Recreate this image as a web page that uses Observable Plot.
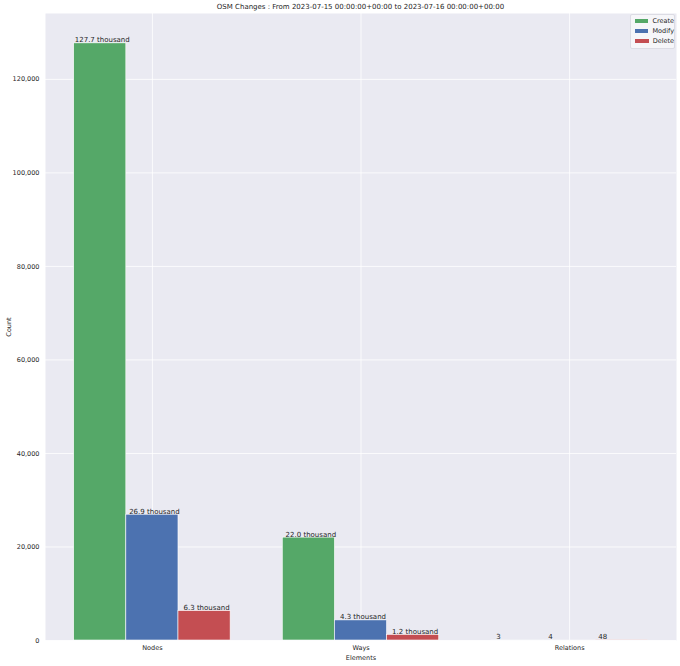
<!DOCTYPE html>
<html>
<head>
<meta charset="utf-8">
<script src="https://cdn.jsdelivr.net/npm/d3@7"></script>
<script src="https://cdn.jsdelivr.net/npm/@observablehq/plot@0.6"></script>
<style>
  body { margin: 0; background: #fff; font-family: "DejaVu Sans", sans-serif; color: #262626; }
  #wrap { position: relative; width: 680px; height: 666px; }
  #title { height: 13px; line-height: 14px; font-size: 7px; text-align: center; padding: 0 4px 0 45px; white-space: nowrap; }
  #legend { position: absolute; left: 630px; top: 14px; width: 41px; padding: 1px 0 2px 2px;
            background: rgba(255,255,255,0.55); border: 1px solid #dcdce4; border-radius: 2px; font-size: 6.5px; }
  #legend div { display: flex; align-items: center; height: 10px; }
  #legend span.sw { width: 14px; height: 4px; margin: 0 4px 0 2px; }
</style>
</head>
<body>
<div id="wrap">
  <div id="title">OSM Changes : From 2023-07-15 00:00:00+00:00 to 2023-07-16 00:00:00+00:00</div>
  <div id="chart"></div>
  <div id="legend"></div>
</div>
<script>
const elements = ["Nodes", "Ways", "Relations"];
const actions = ["Create", "Modify", "Delete"];
const createCounts = [127700, 22000, 3];
const modifyCounts = [26900, 4300, 4];
const deleteCounts = [6300, 1200, 48];
const colors = ["#55A868", "#4C72B0", "#C44E52"];

const barWidth = 0.25;
const series = [createCounts, modifyCounts, deleteCounts];

// one row per bar, placed like a grouped matplotlib bar chart
const rows = [];
elements.forEach((el, i) => {
  actions.forEach((act, j) => {
    const center = i + (j - 1) * barWidth;
    rows.push({ element: el, action: act, center, x1: center - barWidth / 2, x2: center + barWidth / 2, count: series[j][i] });
  });
});

const label = (c) => c >= 1000 ? (c / 1000).toFixed(1) + " thousand" : String(c);

const xMin = -barWidth * 1.5;                           // left edge of first bar
const xMax = elements.length - 1 + barWidth * 1.5;      // right edge of last bar
const xPad = (xMax - xMin) * 0.05;
const yMax = d3.max(rows, d => d.count) * 1.05;

const plot = Plot.plot({
  width: 680,
  height: 653,
  marginTop: 0,
  marginLeft: 45,
  marginRight: 4,
  marginBottom: 26,
  style: { fontFamily: "DejaVu Sans", fontSize: "6.5px", color: "#262626", background: "transparent" },
  x: {
    domain: [xMin - xPad, xMax + xPad],
    ticks: d3.range(elements.length),
    tickFormat: i => elements[i],
    tickSize: 0,
    tickPadding: 5,
    label: "Elements",
    labelAnchor: "center",
    labelArrow: "none",
    labelOffset: 19
  },
  y: {
    domain: [0, yMax],
    ticks: d3.range(0, yMax, 20000),
    tickFormat: d3.format(","),
    tickSize: 0,
    tickPadding: 6,
    label: "Count",
    labelAnchor: "center",
    labelArrow: "none",
    labelOffset: 39
  },
  color: { domain: actions, range: colors },
  marks: [
    Plot.frame({ fill: "#EAEAF2", stroke: null }),
    Plot.gridY({ ticks: d3.range(0, yMax, 20000), stroke: "#fff", strokeOpacity: 1, strokeWidth: 0.8 }),
    Plot.gridX({ ticks: d3.range(elements.length), stroke: "#fff", strokeOpacity: 1, strokeWidth: 0.8 }),
    Plot.rectY(rows, { x1: "x1", x2: "x2", y: "count", fill: "action", stroke: "#fff", strokeWidth: 0.6 }),
    // labels for the large counts sit over their bars
    Plot.text(rows.filter(d => d.count >= 1000), { x: "center", y: "count", text: d => label(d.count), lineAnchor: "bottom", dx: 2, dy: -1, fill: "#262626", fontSize: 7 }),
    // the tiny relation counts are drawn a little to the left in the original
    Plot.text(rows.filter(d => d.count < 1000), { x: "center", y: "count", text: d => label(d.count), lineAnchor: "bottom", dx: -19, dy: -1, fill: "#262626", fontSize: 7 })
  ]
});
document.getElementById("chart").append(plot);

const legend = document.getElementById("legend");
actions.forEach((a, j) => {
  const row = document.createElement("div");
  row.innerHTML = `<span class="sw" style="background:${colors[j]}"></span>${a}`;
  legend.append(row);
});
</script>
</body>
</html>
